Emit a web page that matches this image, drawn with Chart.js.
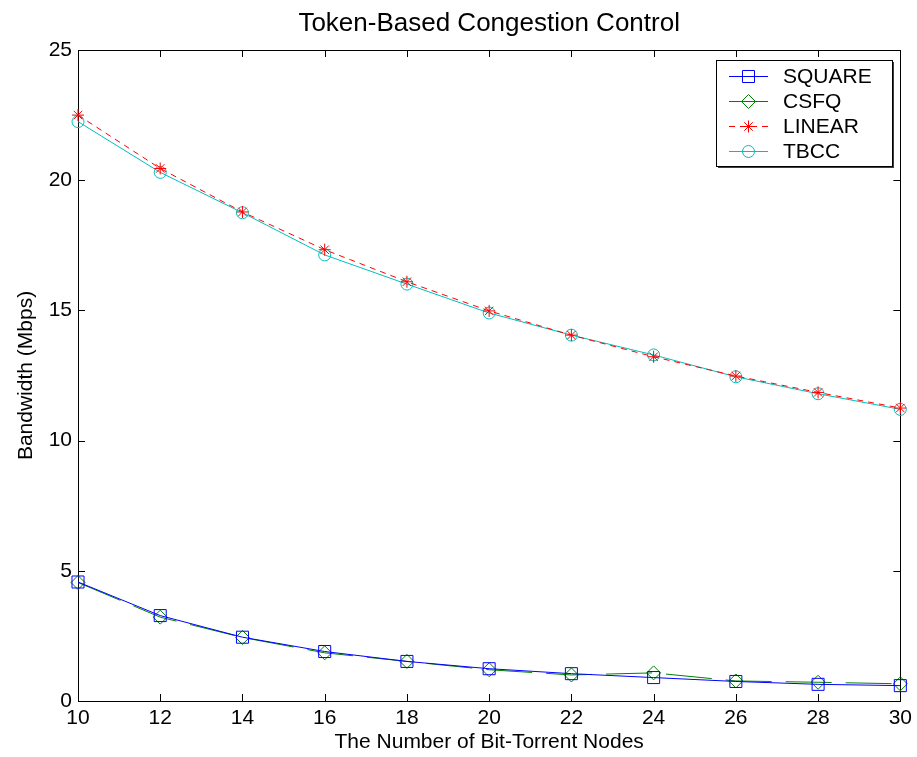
<!DOCTYPE html>
<html>
<head>
<meta charset="utf-8">
<script src="https://cdn.jsdelivr.net/npm/chart.js@4.4.0/dist/chart.umd.min.js"></script>
<style>
html, body { margin: 0; padding: 0; background: #fff; }
#wrap { width: 917px; height: 757px; position: relative; }
</style>
</head>
<body>
<div id="wrap"><canvas id="chart"></canvas></div>
<script>
// Data
const nodes  = [10, 12, 14, 16, 18, 20, 22, 24, 26, 28, 30];
const square = [4.57, 3.28, 2.45, 1.9, 1.52, 1.24, 1.05, 0.9, 0.75, 0.64, 0.59];
const csfq   = [4.55, 3.22, 2.44, 1.85, 1.52, 1.2, 1.0, 1.08, 0.77, 0.72, 0.66];
const linear = [22.5, 20.45, 18.78, 17.33, 16.1, 14.98, 14.05, 13.22, 12.48, 11.85, 11.25];
const tbcc   = [22.25, 20.3, 18.75, 17.13, 16.01, 14.9, 14.05, 13.29, 12.45, 11.8, 11.2];

const chartTitle = 'Token-Based Congestion Control';
const FONT = '"Liberation Sans", Arial, Helvetica, sans-serif';

function pts(vals) {
    return nodes.map((n, i) => ({ x: n, y: vals[i] }));
}

function series(label, vals, color, style, radius, dash) {
    return {
        label: label,
        data: pts(vals),
        borderColor: color,
        borderWidth: 1,
        borderDash: dash,
        pointStyle: style,
        pointRadius: radius,
        pointBorderColor: color,
        pointBackgroundColor: 'rgba(0,0,0,0)',
        pointBorderWidth: 1,
        tension: 0,
        clip: false
    };
}

// Box round the plot with inward ticks on all four sides, plus the title
const frame = {
    id: 'frame',
    beforeDatasetsDraw(chart) {
        const { ctx, chartArea: a, scales } = chart;
        ctx.save();
        ctx.strokeStyle = '#000';
        ctx.lineWidth = 1;
        ctx.beginPath();
        scales.x.ticks.forEach(t => {
            const px = Math.round(scales.x.getPixelForValue(t.value)) + 0.5;
            ctx.moveTo(px, a.bottom); ctx.lineTo(px, a.bottom - 7);
            ctx.moveTo(px, a.top); ctx.lineTo(px, a.top + 7);
        });
        scales.y.ticks.forEach(t => {
            const py = Math.round(scales.y.getPixelForValue(t.value)) + 0.5;
            ctx.moveTo(a.left, py); ctx.lineTo(a.left + 7, py);
            ctx.moveTo(a.right, py); ctx.lineTo(a.right - 7, py);
        });
        ctx.stroke();
        ctx.strokeRect(Math.round(a.left) + 0.5, Math.round(a.top) + 0.5,
            Math.round(a.right - a.left), Math.round(a.bottom - a.top));

        ctx.fillStyle = '#000';
        ctx.font = '26px ' + FONT;
        ctx.textAlign = 'center';
        ctx.textBaseline = 'middle';
        ctx.fillText(chartTitle, (a.left + a.right) / 2, 24);
        ctx.restore();
    }
};

// MATLAB style legend box in the top right corner
const legendBox = {
    id: 'legendBox',
    afterDraw(chart) {
        const { ctx } = chart;
        const x = 716, y = 60, w = 176, h = 106;
        ctx.save();
        ctx.fillStyle = '#404040';
        ctx.fillRect(x + 2, y + 2, w, h);
        ctx.fillStyle = '#fff';
        ctx.fillRect(x, y, w, h);
        ctx.strokeStyle = '#000';
        ctx.lineWidth = 1;
        ctx.strokeRect(x + 0.5, y + 0.5, w, h);
        ctx.font = '21px ' + FONT;
        ctx.textBaseline = 'middle';
        ctx.textAlign = 'left';
        chart.data.datasets.forEach((ds, i) => {
            const cy = Math.round(y + 15.5 + i * 25.3) + 0.5;
            ctx.strokeStyle = ds.borderColor;
            ctx.setLineDash(ds.borderDash || []);
            ctx.beginPath();
            ctx.moveTo(729, cy);
            ctx.lineTo(768, cy);
            ctx.stroke();
            ctx.setLineDash([]);
            ctx.fillStyle = 'rgba(0,0,0,0)';
            Chart.helpers.drawPoint(ctx, {
                pointStyle: ds.pointStyle,
                radius: ds.pointRadius,
                borderWidth: 1,
                rotation: 0
            }, 748.5, cy);
            ctx.fillStyle = '#000';
            ctx.fillText(ds.label, 783, cy + 1);
        });
        ctx.restore();
    }
};

new Chart(document.getElementById('chart'), {
    type: 'line',
    data: {
        datasets: [
            series('SQUARE', square, '#0000ff', 'rect', 8.5, []),
            series('CSFQ', csfq, '#008000', 'rectRot', 7, [46, 14]),
            series('LINEAR', linear, '#ff0000', 'star', 6, [6, 5]),
            series('TBCC', tbcc, '#00bfbf', 'circle', 6, [])
        ]
    },
    options: {
        responsive: true,
        maintainAspectRatio: false,
        animation: false,
        layout: { padding: { top: 50, right: 15, bottom: 0, left: 0 } },
        plugins: {
            legend: { display: false },
            tooltip: { enabled: false },
            title: { display: false }
        },
        scales: {
            x: {
                type: 'linear',
                min: 10,
                max: 30,
                ticks: { stepSize: 2, color: '#000', padding: 5, font: { family: FONT, size: 21 } },
                grid: { display: false, drawTicks: false },
                border: { display: false },
                title: {
                    display: true,
                    text: 'The Number of Bit-Torrent Nodes',
                    color: '#000',
                    font: { family: FONT, size: 21 },
                    padding: { top: 0, bottom: 2 }
                },
                afterFit(scale) { scale.height = 56; }
            },
            y: {
                min: 0,
                max: 25,
                ticks: { stepSize: 5, color: '#000', padding: 6, font: { family: FONT, size: 21 } },
                grid: { display: false, drawTicks: false },
                border: { display: false },
                title: {
                    display: true,
                    text: 'Bandwidth (Mbps)',
                    color: '#000',
                    font: { family: FONT, size: 21 },
                    padding: { top: 14, bottom: 0 }
                },
                afterFit(scale) { scale.width = 78; }
            }
        }
    },
    plugins: [frame, legendBox]
});
</script>
</body>
</html>
